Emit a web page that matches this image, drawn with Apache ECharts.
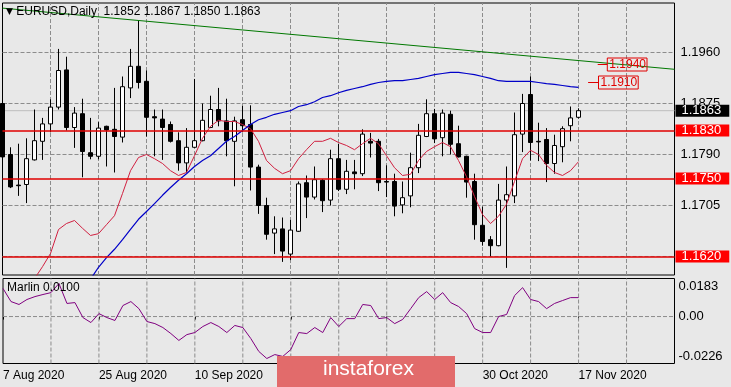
<!DOCTYPE html>
<html><head><meta charset="utf-8">
<script src="https://cdn.jsdelivr.net/npm/echarts@6/dist/echarts.min.js"></script>
<style>html,body{margin:0;padding:0;background:#e8e8e8}#c{width:731px;height:387px}</style>
</head><body><div id="c"></div><script>
const symbol = 'EURUSD', period = 'Daily';
const slotCount = 85;             // 73 trading days + empty right margin
const dateLabelStep = 12, gridStep = 6;
const monthNames = ['Jan','Feb','Mar','Apr','May','Jun','Jul','Aug','Sep','Oct','Nov','Dec'];

const opens = [1.1875,1.1790,1.1739,1.1740,1.1781,1.1812,1.1841,1.1869,1.1931,1.1835,
1.1858,1.1793,1.1787,1.1837,1.1832,1.1819,1.1901,1.1937,1.1912,1.1853,
1.1849,1.1840,1.1813,1.1776,1.1802,1.1813,1.1835,1.1865,1.1846,1.1812,
1.1848,1.1840,1.1769,1.1705,1.1659,1.1666,1.1624,1.1662,1.1743,1.1719,
1.1747,1.1714,1.1783,1.1732,1.1761,1.1758,1.1812,1.1812,1.1745,1.1745,
1.1706,1.1721,1.1768,1.1820,1.1858,1.1818,1.1857,1.1808,1.1787,1.1745,
1.1672,1.1648,1.1638,1.1714,1.1721,1.1824,1.1890,1.1812,1.1815,1.1775,
1.1803,1.1838,1.1852];
const closes = [1.1786,1.1736,1.1738,1.1783,1.1813,1.1841,1.1869,1.1930,1.1835,1.1859,
1.1795,1.1787,1.1834,1.1831,1.1820,1.1903,1.1937,1.1910,1.1852,1.1851,
1.1835,1.1812,1.1776,1.1802,1.1813,1.1847,1.1865,1.1846,1.1813,1.1846,
1.1838,1.1769,1.1705,1.1657,1.1666,1.1629,1.1664,1.1741,1.1719,1.1748,
1.1713,1.1783,1.1732,1.1762,1.1758,1.1824,1.1809,1.1743,1.1744,1.1704,
1.1718,1.1768,1.1822,1.1858,1.1816,1.1859,1.1807,1.1786,1.1744,1.1673,
1.1645,1.1638,1.1714,1.1723,1.1823,1.1875,1.1810,1.1811,1.1775,1.1805,
1.1833,1.1851,1.1863];
const highs = [1.1883,1.1802,1.1808,1.1817,1.1865,1.1851,1.1882,1.1966,1.1953,1.1869,
1.1883,1.1851,1.1844,1.1838,1.1901,1.1920,1.1966,1.2013,1.1930,1.1865,
1.1865,1.1845,1.1827,1.1834,1.1916,1.1875,1.1888,1.1901,1.1883,1.1853,
1.1871,1.1872,1.1773,1.1718,1.1687,1.1685,1.1681,1.1745,1.1755,1.1770,
1.1749,1.1798,1.1808,1.1781,1.1781,1.1832,1.1826,1.1816,1.1772,1.1758,
1.1745,1.1793,1.1841,1.1882,1.1866,1.1865,1.1863,1.1838,1.1788,1.1758,
1.1703,1.1654,1.1741,1.1770,1.1860,1.1891,1.1920,1.1843,1.1834,1.1823,
1.1837,1.1870,1.1867];
const lows = [1.1754,1.1734,1.1721,1.1709,1.1780,1.1781,1.1827,1.1865,1.1830,1.1801,
1.1752,1.1782,1.1782,1.1770,1.1760,1.1810,1.1884,1.1900,1.1820,1.1787,
1.1781,1.1810,1.1763,1.1760,1.1801,1.1812,1.1834,1.1837,1.1787,1.1737,
1.1827,1.1730,1.1691,1.1648,1.1624,1.1611,1.1614,1.1661,1.1684,1.1715,
1.1694,1.1705,1.1729,1.1724,1.1732,1.1754,1.1785,1.1729,1.1719,1.1687,
1.1692,1.1702,1.1759,1.1819,1.1809,1.1787,1.1790,1.1785,1.1718,1.1648,
1.1638,1.1620,1.1637,1.1601,1.1709,1.1794,1.1780,1.1779,1.1744,1.1758,
1.1777,1.1812,1.1850];
const fastMA = [null,null,null,1.1560,1.1583,1.1603,1.1625,1.1665,1.1675,1.1680,
1.1667,1.1655,1.1658,1.1673,1.1688,1.1725,1.1763,1.1785,1.1790,1.1783,
1.1775,1.1763,1.1755,1.1760,1.1788,1.1817,1.1837,1.1847,1.1845,1.1845,
1.1840,1.1833,1.1812,1.1780,1.1767,1.1758,1.1763,1.1783,1.1798,1.1812,
1.1812,1.1817,1.1810,1.1805,1.1798,1.1808,1.1817,1.1808,1.1788,1.1768,
1.1755,1.1757,1.1780,1.1795,1.1803,1.1810,1.1803,1.1780,1.1753,1.1720,
1.1690,1.1675,1.1687,1.1707,1.1745,1.1783,1.1797,1.1790,1.1772,1.1760,
1.1755,1.1763,1.1778];
const slowMA = [null,null,null,null,null,null,null,null,null,null,
null,1.1582,1.1602,1.1618,1.1632,1.1648,1.1665,1.1682,1.1695,1.1708,
1.1722,1.1735,1.1747,1.1758,1.1770,1.1780,1.1788,1.1800,1.1812,1.1820,
1.1830,1.1840,1.1848,1.1852,1.1857,1.1860,1.1863,1.1870,1.1873,1.1878,
1.1885,1.1888,1.1893,1.1897,1.1900,1.1903,1.1907,1.1910,1.1912,1.1913,
1.1913,1.1915,1.1917,1.1920,1.1923,1.1925,1.1927,1.1927,1.1925,1.1923,
1.1920,1.1917,1.1913,1.1912,1.1912,1.1912,1.1912,1.1910,1.1908,1.1907,
1.1905,1.1903,1.1902];
const marlin = [0.0135,0.0072,0.0058,0.0082,0.0096,0.0106,0.0115,0.0159,0.0063,0.0067,
-0.0005,-0.0029,0.0014,-0.0005,-0.0019,0.0053,0.0072,0.0038,-0.0024,-0.0034,
-0.0053,-0.0082,-0.0115,-0.0087,-0.0077,-0.0048,-0.0029,-0.0048,-0.0077,-0.0043,
-0.0053,-0.0106,-0.0168,-0.0202,-0.0183,-0.0192,-0.0159,-0.0077,-0.0082,-0.0053,
-0.0077,-0.0005,-0.0048,-0.0010,-0.0010,0.0058,0.0053,-0.0010,-0.0005,-0.0034,
-0.0014,0.0038,0.0091,0.0120,0.0082,0.0115,0.0067,0.0048,0.0014,-0.0058,
-0.0077,-0.0077,0.0000,0.0010,0.0101,0.0139,0.0082,0.0072,0.0038,0.0063,
0.0077,0.0091,0.0091];

const priceTicks = [1.1620,1.1705,1.1790,1.1875,1.1960];
const levels = [1.1830,1.1750,1.1620];
const bid = 1.1863;
const trendLine = [[0,1.2034],[84,1.1932]];
const note1940 = [[74.4,1.1940],[75.6,1.1940]];
const note1910 = [[73.2,1.1910],[74.5,1.1910]];
const marlinTicks = [-0.0226,0,0.0183];
const marlinTitle = 'Marlin 0.0100';
const priceMin = 1.158913, priceMax = 1.204253;

// trading-day categories starting 7 Aug 2020
const categories = [];
let d = new Date(Date.UTC(2020,7,7));
while (categories.length < slotCount) {
  const wd = d.getUTCDay();
  if (wd !== 0 && wd !== 6) categories.push(d.getUTCDate()+' '+monthNames[d.getUTCMonth()]+' '+d.getUTCFullYear());
  d = new Date(d.getTime()+86400000);
}
const candles = opens.map((o,i)=>[o,closes[i],lows[i],highs[i]]);
const last = opens.length-1;
const xEnd = slotCount-1;
const f4 = v => v.toFixed(4);
const vGridIdx = [];
for (let i = gridStep; i < xEnd; i += gridStep) vGridIdx.push(i);

const FONT = 'Liberation Sans';
const GRID_COLOR = '#8c8c8c';
const dashed = {color:GRID_COLOR, type:'dashed', dashOffset:0, width:1, opacity:1};

// grid line series (drawn through the axes' scales)
const gridSeries = [];
priceTicks.forEach(v => gridSeries.push({type:'line',xAxisIndex:2,yAxisIndex:0,data:[[0,v],[xEnd,v]],symbol:'none',silent:true,z:2,zlevel:0,lineStyle:dashed}));
vGridIdx.forEach(i => gridSeries.push({type:'line',xAxisIndex:2,yAxisIndex:0,data:[[i,priceMin],[i,priceMax]],symbol:'none',silent:true,z:2,lineStyle:dashed}));
gridSeries.push({type:'line',xAxisIndex:3,yAxisIndex:1,data:[[0,0],[xEnd,0]],symbol:'none',silent:true,z:2,lineStyle:dashed});
vGridIdx.forEach(i => gridSeries.push({type:'line',xAxisIndex:3,yAxisIndex:1,data:[[i,marlinTicks[0]],[i,marlinTicks[2]]],symbol:'none',silent:true,z:2,lineStyle:dashed}));

const chart = echarts.init(document.getElementById('c'));
chart.setOption({
  backgroundColor:'#e8e8e8',
  animation:false,
  title:[
    {text:`{tri|▼} ${symbol},${period}  ${f4(opens[last])} ${f4(highs[last])} ${f4(lows[last])} ${f4(closes[last])}`,
     left:6, top:6, padding:0,
     textStyle:{fontFamily:FONT,fontSize:12,fontWeight:'normal',color:'#000',
       rich:{tri:{fontFamily:'DejaVu Sans',fontSize:9,color:'#000'}}}},
    {text:marlinTitle,left:7,top:282,padding:0,textStyle:{fontFamily:FONT,fontSize:12,fontWeight:'normal',color:'#000'}}
  ],
  grid:[
    {left:2.5,top:3,width:672,height:272,show:true,borderColor:'#000',borderWidth:1,backgroundColor:'rgba(0,0,0,0)',z:0},
    {left:2.5,top:278.5,width:672,height:85,show:true,borderColor:'#000',borderWidth:1,backgroundColor:'rgba(0,0,0,0)',z:0}
  ],
  xAxis:[
    {type:'category',gridIndex:0,data:categories,boundaryGap:false,axisLine:{show:false},axisTick:{show:false},axisLabel:{show:false},splitLine:{show:false}},
    {type:'category',gridIndex:1,data:categories,boundaryGap:false,axisLine:{show:false},
     axisTick:{show:true,interval:(i)=>i%dateLabelStep===0 && i<=last,length:3,lineStyle:{color:'#000'}},
     axisLabel:{show:true,interval:(i)=>i%dateLabelStep===0 && i<=last,align:'left',margin:6,fontFamily:FONT,fontSize:12,color:'#000'},
     splitLine:{show:false}},
    {type:'value',gridIndex:0,min:0,max:xEnd,show:false},
    {type:'value',gridIndex:1,min:0,max:xEnd,show:false}
  ],
  yAxis:[
    {type:'value',gridIndex:0,position:'right',min:priceMin,max:priceMax,scale:true,
     axisLine:{show:false},
     axisTick:{show:true,customValues:priceTicks,length:4,lineStyle:{color:'#000'}},
     axisLabel:{customValues:priceTicks,formatter:v=>f4(v),margin:6,fontFamily:FONT,fontSize:13,color:'#000'},
     splitLine:{show:false}},
    {type:'value',gridIndex:1,position:'right',min:marlinTicks[0],max:marlinTicks[2],
     axisLine:{show:false},
     axisTick:{show:false},
     axisLabel:{customValues:marlinTicks,margin:4,fontFamily:FONT,fontSize:13,color:'#000',
       formatter:v=>{
         if (Math.abs(v-marlinTicks[2])<1e-9) return '{t|'+f4(v)+'}';
         if (Math.abs(v-marlinTicks[0])<1e-9) return '{b|'+f4(v)+'}';
         return '{m|0.00}';
       },
       rich:{t:{padding:[16,0,0,0],fontFamily:FONT,fontSize:13,color:'#000'},
             b:{padding:[0,0,14,0],fontFamily:FONT,fontSize:13,color:'#000'},
             m:{fontFamily:FONT,fontSize:13,color:'#000'}}},
     splitLine:{show:false}}
  ],
  series: gridSeries.concat([
    {type:'line',xAxisIndex:2,yAxisIndex:0,data:[[0,bid],[xEnd,bid]],symbol:'none',silent:true,z:2,
     lineStyle:{color:'#bdbdbd',type:'solid',width:1},
     endLabel:{show:true,formatter:f4(bid),distance:1,backgroundColor:'#000',color:'#fff',
       fontFamily:FONT,fontSize:13,lineHeight:12,padding:[0,8,0,6]}},
    {type:'candlestick',xAxisIndex:0,yAxisIndex:0,data:candles,barWidth:5,z:3,
     itemStyle:{color:'#ffffff',color0:'#000000',borderColor:'#000000',borderColor0:'#000000',borderColorDoji:'#000000',borderWidth:1}},
    {type:'line',xAxisIndex:0,yAxisIndex:0,data:fastMA,symbol:'none',z:4,lineStyle:{color:'#d02040',width:1}},
    {type:'line',xAxisIndex:0,yAxisIndex:0,data:slowMA,symbol:'none',z:4,lineStyle:{color:'#0000c8',width:1.2},
     markLine:{silent:true,symbol:'none',z:5,animation:false,precision:5,
       data: levels.map(v=>({yAxis:v,lineStyle:{color:'#e00000',type:'solid',width:1.5},
         label:{show:true,position:'end',distance:1,formatter:f4(v),backgroundColor:'#ff0000',color:'#fff',
                fontFamily:FONT,fontSize:13,lineHeight:12,padding:[0,8,0,6]}}))}},
    {type:'line',xAxisIndex:2,yAxisIndex:0,data:trendLine,symbol:'none',z:4,lineStyle:{color:'#007800',width:1}},
    {type:'line',xAxisIndex:2,yAxisIndex:0,data:note1940,symbol:'none',z:4,lineStyle:{color:'#e00000',width:1},
     endLabel:{show:true,formatter:f4(note1940[1][1]),distance:0,color:'#e00000',borderColor:'#e00000',borderWidth:1,
       padding:[1,1,0,2],fontFamily:FONT,fontSize:12}},
    {type:'line',xAxisIndex:2,yAxisIndex:0,data:note1910,symbol:'none',z:4,lineStyle:{color:'#e00000',width:1},
     endLabel:{show:true,formatter:f4(note1910[1][1]),distance:0,color:'#e00000',borderColor:'#e00000',borderWidth:1,
       padding:[1,1,0,2],fontFamily:FONT,fontSize:12}},
    {type:'line',xAxisIndex:1,yAxisIndex:1,data:marlin,symbol:'none',z:4,lineStyle:{color:'#800080',width:1}}
  ]),
  graphic:[
    {type:'rect',left:277,top:356,shape:{width:178,height:31},style:{fill:'#e26b6b'},z:100},
    {type:'text',left:323,top:359,style:{text:'instaforex',fill:'#ffffff',font:'21px "Liberation Sans"'},z:101}
  ]
});
</script></body></html>
